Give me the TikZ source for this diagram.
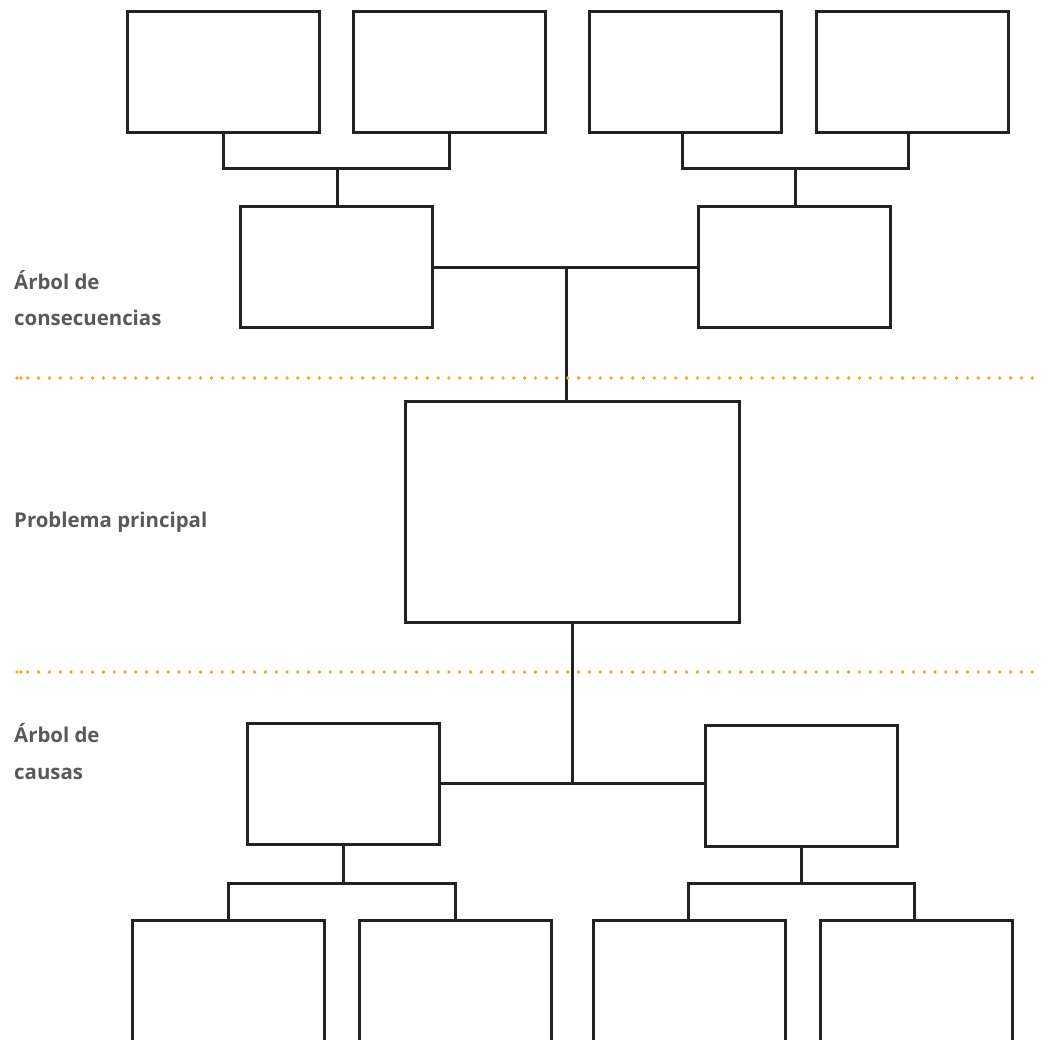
\documentclass[tikz,border=0pt]{standalone}
\usepackage{fontspec}
\setmainfont{Open Sans}
\definecolor{boxline}{HTML}{222222}
\definecolor{labelgray}{HTML}{595959}
\definecolor{divider}{RGB}{247,166,35}
\begin{document}
\begin{tikzpicture}[x=1pt,y=-1pt,
  treebox/.style={draw=boxline, line width=3pt, rectangle, inner sep=0pt,
    minimum width=192pt, minimum height=121pt},
  link/.style={draw=boxline, line width=3pt},
  sectionlabel/.style={anchor=base west, inner sep=0pt, text=labelgray,
    font=\bfseries\fontsize{20.4}{25}\selectfont},
  separator/.style={draw=divider, line width=3.8pt, line cap=round,
    dash pattern=on 0pt off 10.8pt}]
\useasboundingbox (0,0) rectangle (1048,1039);
\clip (0,0) rectangle (1048,1039);

% consequence tree: top row
\node[treebox] (a1) at (223.5,72) {};
\node[treebox] (a2) at (449.5,72) {};
\node[treebox] (a3) at (685,72) {};
\node[treebox] (a4) at (912,72) {};
% consequence tree: second row
\node[treebox] (b1) at (336,267) {};
\node[treebox] (b2) at (794.5,267) {};
% main problem
\node[treebox, minimum width=334pt, minimum height=221pt] (main) at (572,511.5) {};
% cause tree: first row
\node[treebox] (c1) at (343,783.5) {};
\node[treebox] (c2) at (801,786) {};
% cause tree: bottom row (runs off the lower edge)
\node[treebox, minimum height=122pt] (d1) at (228.5,981) {};
\node[treebox, minimum height=122pt] (d2) at (455,981) {};
\node[treebox, minimum height=122pt] (d3) at (689.5,981) {};
\node[treebox, minimum height=122pt] (d4) at (916.5,981) {};

% junction points
\coordinate (jb) at (566,267);
\coordinate (ja1) at (337,168);
\coordinate (ja2) at (795,168);
\coordinate (jc) at (572,783);
\coordinate (jd1) at (343,883);
\coordinate (jd2) at (801,883);

% consequence brackets
\draw[link] (a1.south) -- (a1.south |- ja1) -- (a2.south |- ja1) -- (a2.south);
\draw[link] (ja1) -- (b1.north -| ja1);
\draw[link] ([xshift=-3]a3.south) |- (ja2) -| ([xshift=-4]a4.south);
\draw[link] (ja2) -- (b2.north -| ja2);
\draw[link] (b1.east) -- (b2.west);
\draw[link] (jb) -- (main.north -| jb);

% cause brackets
\draw[link] (main.south) -- (jc);
\draw[link] (c1.east) -- (c2.west |- c1.east);
\draw[link] (c1.south) -- (jd1);
\draw[link] (d1.north) |- (jd1) -| (d2.north);
\draw[link] (c2.south) -- (jd2);
\draw[link] ([xshift=-1.5]d3.north) |- (jd2) -| ([xshift=-2.5]d4.north);

% dotted separators
\coordinate (s1l) at (17,378);
\coordinate (s1r) at (1041,378);
\coordinate (s2l) at (17,672);
\coordinate (s2r) at (1041,672);
\draw[separator] (s1l) -- (s1r);
\draw[separator] (s2l) -- (s2r);
\fill[divider] (s1l) ++(4,0) circle (1.9pt);
\fill[divider] (s2l) ++(4,0) circle (1.9pt);

% section labels
\node[sectionlabel] (lab1a) at (14,289) {Árbol de};
\node[sectionlabel] (lab1b) at (14,325) {consecuencias};
\node[sectionlabel] (lab2) at (14,527) {Problema principal};
\node[sectionlabel] (lab3a) at (14,742) {Árbol de};
\node[sectionlabel] (lab3b) at (14,779) {causas};
\end{tikzpicture}
\end{document}
